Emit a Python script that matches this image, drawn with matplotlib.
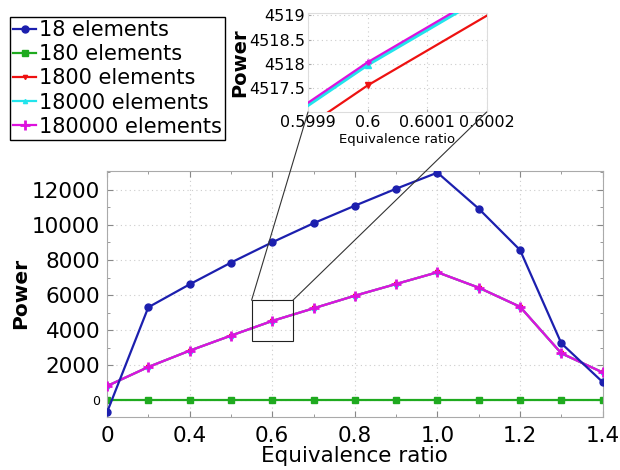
import numpy as np
import matplotlib
matplotlib.use('Agg')
import matplotlib.pyplot as plt
from matplotlib.patches import Rectangle, ConnectionPatch
from matplotlib.ticker import MultipleLocator, FixedLocator

#---DATA
ratio = [0.2, 0.3, 0.4, 0.5, 0.6, 0.7, 0.8, 0.9, 1.0, 1.1, 1.2, 1.3, 1.4]
x_tick_pos = [0.2, 0.4, 0.6, 0.8, 1.0, 1.2, 1.4]
x_tick_labels = ['0', '0.4', '0.6', '0.8', '1.0', '1.2', '1.4']

p_18 = [-700, 5300, 6610, 7850, 9010, 10100, 11100, 12070, 12990, 10930, 8570, 3240, 1030]
p_180 = [0, 0, 0, 0, 0, 0, 0, 0, 0, 0, 0, 0, 0]
p_1800 = [799.5, 1889.5, 2819.5, 3679.5, 4517.55, 5239.5, 5959.5, 6629.5, 7299.5, 6419.5, 5329.5, 2669.5, 1579.5]
p_18000 = [800, 1890, 2820, 3680, 4517.98, 5240, 5960, 6630, 7300, 6420, 5330, 2670, 1580]
p_180000 = [800, 1890, 2820, 3680, 4518.03, 5240, 5960, 6630, 7300, 6420, 5330, 2670, 1580]

labels = ['18 elements', '180 elements', '1800 elements', '18000 elements', '180000 elements']
colors = ['#1c1fae', '#1faa1f', '#ee1111', '#22e4ec', '#dd11dd']
markers = ['o', 's', 'v', '^', '+']
series = [p_18, p_180, p_1800, p_18000, p_180000]

#---FIGURE
fig = plt.figure(figsize=(6.2, 4.7), dpi=100)
ax = fig.add_axes([0.1726, 0.1134, 0.7994, 0.5234])

handles = []
for vals, lab, c, m in zip(series, labels, colors, markers):
    ms = {'o': 5, 's': 4, 'v': 3, '^': 3, '+': 7}[m]
    mew = 2 if m == '+' else 1
    h, = ax.plot(ratio, vals, color=c, marker=m, ms=ms, mew=mew, lw=1.6, label=lab)
    handles.append(h)
# magenta sits on top of red/cyan like the original
handles[4].set_zorder(5)
handles[0].set_zorder(6)

ax.set_xlim(0.2, 1.4)
ax.xaxis.set_major_locator(FixedLocator(x_tick_pos))
ax.set_xticklabels(x_tick_labels)
ax.xaxis.set_minor_locator(MultipleLocator(0.1))
yt = list(range(0, 12001, 2000))
ax.set_yticks(yt)
ax.set_yticklabels([str(v) for v in yt])
ax.yaxis.set_minor_locator(MultipleLocator(1000))
ax.set_ylim(-950, 13100)
ax.tick_params(which='both', direction='in', top=True, right=True, color='#888888')
ax.tick_params(which='major', length=4, labelsize=15.5, pad=5)
ax.tick_params(which='minor', length=2)
ax.tick_params(axis='x', which='major', pad=7)
ax.grid(True, which='major', linestyle=(0, (1, 3)), color='#cccccc', lw=0.8)
for s in ax.spines.values():
    s.set_color('#aaaaaa')
    s.set_linewidth(0.8)
for t, v in zip(ax.get_yticklabels(), yt):
    if v == 0:
        t.set_fontsize(9)

ax.set_xlabel('Equivalence ratio', fontsize=15.5, labelpad=0)
ax.set_ylabel('Power', fontsize=14.5, fontweight='bold', labelpad=1)

# zoom box
ax.add_patch(Rectangle((0.55, 3400), 0.1, 2300, fill=False, edgecolor='#222222', lw=0.8, zorder=7))

#---INSET
axins = fig.add_axes([0.4968, 0.7617, 0.2882, 0.2106])
for vals, c, m in zip(series[2:], colors[2:], markers[2:]):
    lw = 2.6 if c == colors[3] else 1.6
    z = 4 if c == colors[4] else 3
    axins.plot(ratio, vals, color=c, marker=m, ms=5, mew=2 if m == '+' else 1, lw=lw, zorder=z)
axins.set_xlim(0.5999, 0.6002)
axins.set_ylim(4517.0, 4519.05)
axins.set_xticks([0.5999, 0.6, 0.6001, 0.6002])
axins.set_xticklabels(['0.5999', '0.6', '0.6001', '0.6002'])
axins.set_yticks([4517.5, 4518, 4518.5, 4519])
axins.set_yticklabels(['4517.5', '4518', '4518.5', '4519'])
axins.tick_params(direction='in', length=2, color='#aaaaaa', labelsize=11.5, pad=2)
axins.grid(True, linestyle=(0, (1, 3)), color='#cccccc', lw=0.8)
for s in axins.spines.values():
    s.set_color('#dddddd')
    s.set_linewidth(0.8)
axins.set_xlabel('Equivalence ratio', fontsize=9.5, labelpad=2)
axins.set_ylabel('Power', fontsize=14, fontweight='bold', labelpad=0)

for xa, xb in [(0.55, 0.0), (0.65, 1.0)]:
    con = ConnectionPatch(xyA=(xa, 5700), coordsA='data', axesA=ax,
                          xyB=(xb, 0.0), coordsB='axes fraction', axesB=axins,
                          color='#333333', lw=0.8, zorder=10)
    fig.add_artist(con)

#---LEGEND
fig.legend(handles=handles, labels=labels, loc='upper left', bbox_to_anchor=(0.016, 0.964),
           fontsize=15, handlelength=1.1, handletextpad=0.15, labelspacing=0.2,
           borderpad=0.15, borderaxespad=0, fancybox=False, edgecolor='black', framealpha=1)

fig.savefig('out.png', dpi=100)
